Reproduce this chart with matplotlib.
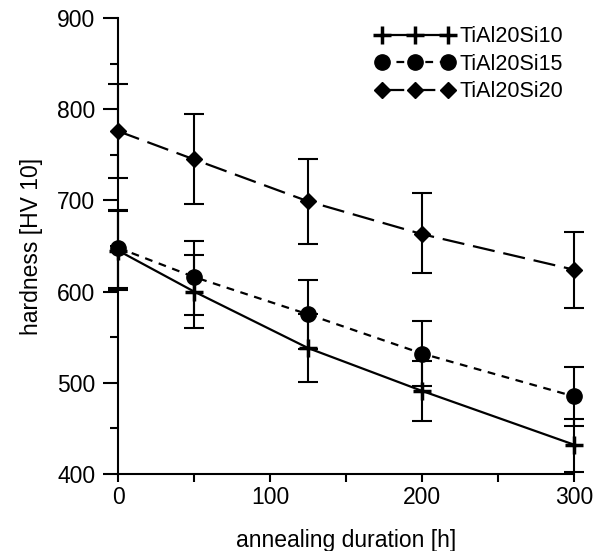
import matplotlib

matplotlib.use("Agg")

import matplotlib.pyplot as plt
from matplotlib.ticker import MultipleLocator

plt.rcParams["font.family"] = ["Liberation Sans", "DejaVu Sans"]

duration = [0, 50, 125, 200, 300]

si10 = [645, 600, 538, 491, 432]
si10_low = [602, 560, 501, 458, 402]
si10_high = [688, 640, 575, 524, 460]

si15 = [648, 616, 575, 532, 485]
si15_low = [604, 574, 537, 496, 453]
si15_high = [690, 656, 613, 568, 517]

si20 = [776, 745, 699, 663, 624]
si20_low = [725, 696, 652, 620, 582]
si20_high = [828, 795, 745, 708, 665]

series = [
    ("TiAl20Si10", si10, si10_low, si10_high, "+", 13, "-"),
    ("TiAl20Si15", si15, si15_low, si15_high, "o", 11, (0, (3.5, 3))),
    ("TiAl20Si20", si20, si20_low, si20_high, "D", 8.5, (0, (10, 4))),
]

fig = plt.figure(figsize=(6.03, 5.51), dpi=100)
ax = fig.add_axes([0.196, 0.140, 0.756, 0.827])

for name, y, low, high, marker, ms, ls in series:
    yerr = [[v - l for v, l in zip(y, low)], [h - v for v, h in zip(y, high)]]
    ax.errorbar(duration, y, yerr=yerr, fmt="none", ecolor="black",
                elinewidth=1.5, capsize=7, capthick=1.5, clip_on=False)
    ax.plot(duration, y, color="black", linestyle=ls, linewidth=1.6,
            marker=marker, markersize=ms, markeredgewidth=2.5 if marker == "+" else 1,
            label=name, clip_on=False)

ax.set_xlim(0, 300)
ax.set_ylim(400, 900)
ax.xaxis.set_major_locator(MultipleLocator(100))
ax.xaxis.set_minor_locator(MultipleLocator(50))
ax.yaxis.set_major_locator(MultipleLocator(100))
ax.yaxis.set_minor_locator(MultipleLocator(50))
ax.tick_params(which="both", direction="out", width=1.5, labelsize=16.5)
ax.tick_params(axis="y", which="major", length=11, pad=5.5)
ax.tick_params(axis="y", which="minor", length=6)
ax.tick_params(axis="x", which="major", length=6, pad=2.5)
ax.tick_params(axis="x", which="minor", length=6)
ax.spines["top"].set_visible(False)
ax.spines["right"].set_visible(False)
ax.spines["left"].set_linewidth(1.5)
ax.spines["bottom"].set_linewidth(1.5)

ax.set_xlabel("annealing duration [h]", fontsize=16.5)
ax.set_ylabel("hardness [HV 10]", fontsize=16.5)
ax.xaxis.set_label_coords(0.5, -0.122)
ax.yaxis.set_label_coords(-0.165, 0.5)

ax.legend(loc="upper right", bbox_to_anchor=(1.018, 1.025), frameon=False,
          numpoints=3, handlelength=3.67, fontsize=15.5, handletextpad=0.23,
          labelspacing=0.3)

plt.savefig("out.png", dpi=100)
plt.close()
